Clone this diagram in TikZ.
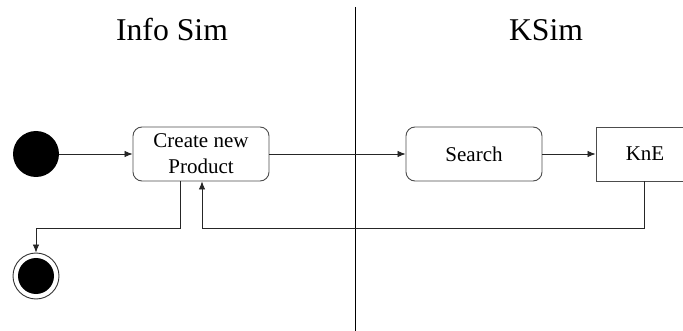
\documentclass[tikz,border=0pt]{standalone}
\usepackage{fontspec}
\setmainfont{Liberation Serif}
\usetikzlibrary{arrows.meta, positioning}

\begin{document}
\begin{tikzpicture}[x = 1pt, y = -1pt, >={Latex[length=8pt, width=6.5pt]},
	action/.style = {draw = black!70, line width = 0.9pt, rounded corners = 9pt, minimum width = 136pt, minimum height = 54pt, align = center, font = \fontsize{21}{26}\selectfont},
	block/.style = {draw = black!70, line width = 0.9pt, minimum width = 98pt, minimum height = 54pt, font = \fontsize{21}{26}\selectfont},
	flow/.style = {line width = 0.8pt, black!85},
	lane/.style = {anchor = base, font = \fontsize{31.7}{36}\selectfont}]
					\def\xMAX{683};
					\def\yMAX{331};
					\def\xLane{355};
					\def\yBack{228};

					\useasboundingbox (0,0) rectangle (\xMAX,\yMAX);
					\clip (0,0) rectangle (\xMAX,\yMAX);

					\node [lane] (infoSim) at (172,40.7) {Info Sim};
					\node [lane] (kSim) at (546,40.7) {KSim};
					\draw [line width = 1pt] (\xLane,7) -- (\xLane,\yMAX);

					\node [circle, fill = black, minimum size = 46pt, inner sep = 0pt] (start) at (36,154) {};
					\node [action] (create) at (201,154) {Create new\\Product};
					\node [action] (search) at (474,154) {Search};
					\node [block] (kne) at (645,154) {KnE};
					\node [circle, draw = black!80, line width = 0.9pt, minimum size = 46pt, inner sep = 0pt] (stop) at (36,276) {};
					\node [circle, fill = black, minimum size = 36pt, inner sep = 0pt] (stopDot) at (stop) {};

					\coordinate (outX) at (180,\yBack);
					\coordinate (backX) at (202,\yBack);
					\coordinate (kneX) at (644,\yBack);

					\begin{scope}[flow, ->]
						\draw (start) -- (create);
						\draw (create) -- (search);
						\draw (search) -- (kne);
						\draw (create.south -| outX) -- (outX) -- (outX -| stop) -- (stop.north);
						\draw (kne.south -| kneX) -- (kneX) -- (backX) -- (create.south -| backX);
					\end{scope}
				\end{tikzpicture}
\end{document}
